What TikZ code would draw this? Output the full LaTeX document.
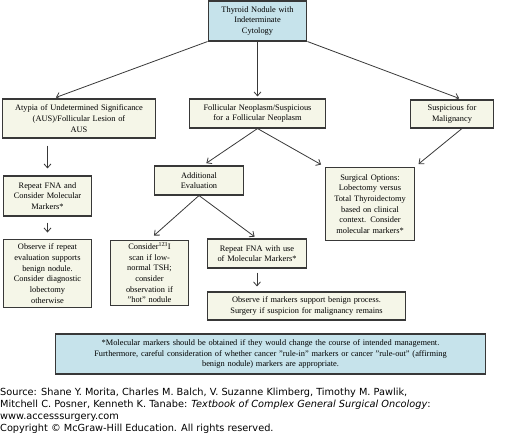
\documentclass[tikz,border=0pt]{standalone}
\usepackage{fontspec}
\setmainfont{Liberation Serif}
\newfontfamily\srcfont{DejaVu Sans}
\usetikzlibrary{arrows.meta}
\definecolor{boxcream}{HTML}{F5F6E8}
\definecolor{boxblue}{HTML}{C6E3EB}
\definecolor{boxline}{HTML}{383838}
\begin{document}
\begin{tikzpicture}[
		x=1bp, y=1bp,
		box/.style={draw=boxline, line width=1.2bp, fill=boxcream, align=center,
			inner sep=0pt, font=\fontsize{8.4}{10.7}\selectfont},
		bluebox/.style={box, fill=boxblue},
		arr/.style={-{Straight Barb[length=4bp, width=7bp]}, line width=0.8bp, draw=boxline}]
		
		\useasboundingbox (0,0) rectangle (514,-435);
		
		% top row
		\node[bluebox, minimum width=99, minimum height=40, text width=97] (thyroid) at (257.5,-21)
			{Thyroid Nodule with\\Indeterminate\\Cytology};
		\node[box, minimum width=154, minimum height=39, text width=152] (aus) at (79,-118.5)
			{Atypia of Undetermined Significance\\(AUS)/Follicular Lesion of\\AUS};
		\node[box, minimum width=137, minimum height=29, text width=135] (fn) at (257.5,-113.5)
			{Follicular Neoplasm/Suspicious\\for a Follicular Neoplasm};
		\node[box, minimum width=84, minimum height=28, text width=82] (susp) at (452,-114)
			{Suspicious for\\Malignancy};
		
		% left column
		\node[box, minimum width=89, minimum height=40, text width=87] (repeat) at (47.5,-196)
			{Repeat FNA and\\Consider Molecular\\Markers*};
		\node[box, minimum width=89, minimum height=69, text width=87] (observe) at (47.5,-273.5)
			{Observe if repeat\\evaluation supports\\benign nodule.\\Consider diagnostic\\lobectomy\\otherwise};
		
		% middle
		\node[box, minimum width=90, minimum height=29, text width=88] (addeval) at (199,-180.5)
			{Additional\\Evaluation};
		\node[box, minimum width=79, minimum height=66, text width=77] (consider) at (149.5,-273)
			{Consider\textsuperscript{123}I\\scan if low-\\normal TSH;\\consider\\observation if\\"hot" nodule};
		\node[box, minimum width=100, minimum height=29, text width=98] (repeatmm) at (257,-253.5)
			{Repeat FNA with use\\of Molecular Markers*};
		\node[box, minimum width=199, minimum height=28, text width=197] (obsmark) at (306.5,-306)
			{Observe if markers support benign process.\\Surgery if suspicion for malignancy remains};
		
		% right
		\node[box, minimum width=90, minimum height=74, text width=88] (surgical) at (370,-204)
			{Surgical Options:\\Lobectomy versus\\Total Thyroidectomy\\based on clinical\\context. Consider\\molecular markers*};
		
		% footnote
		\node[bluebox, minimum width=431, minimum height=40, text width=427] (note) at (270.5,-354)
			{*Molecular markers should be obtained if they would change the course of intended management.\\
			Furthermore, careful consideration of whether cancer "rule-in" markers or cancer "rule-out" (affirming\\
			benign nodule) markers are appropriate.};
		
		% arrows
		\draw[arr, shorten >=3bp] (thyroid.south west) -- ([xshift=-26]aus.north);
		\draw[arr, shorten >=2bp] (thyroid.south) -- (fn.north);
		\draw[arr, shorten >=3bp] (thyroid.south east) -- ([xshift=10]susp.north);
		\draw[arr, shorten <=7bp, shorten >=7bp] (repeat.north |- aus.south) -- (repeat.north);
		\draw[arr, shorten <=6bp, shorten >=6bp] (repeat.south) -- (observe.north);
		\draw[arr, shorten >=4bp] (fn.south) -- ([xshift=4]addeval.north);
		\draw[arr, shorten >=4bp] (fn.south) -- (surgical.north west);
		\draw[arr, shorten >=4bp] ([xshift=10]susp.south) -- (surgical.north east);
		\draw[arr, shorten >=6bp] (addeval.south) -- (consider.north);
		\draw[arr, shorten >=3bp] (addeval.south) -- (repeatmm.north);
		\draw[arr, shorten <=4bp, shorten >=5bp] (repeatmm.south) -- (repeatmm.south |- obsmark.north);
		
		% source lines
		\node[anchor=north west, inner sep=0pt, align=left, font=\srcfont\fontsize{9.8}{12.1}\selectfont] (source) at (0,-387.5)
			{Source: Shane Y. Morita, Charles M. Balch, V. Suzanne Klimberg, Timothy M. Pawlik,\\
			Mitchell C. Posner, Kenneth K. Tanabe: \textit{Textbook of Complex General Surgical Oncology}:\\
			www.accesssurgery.com\\
			Copyright © McGraw-Hill Education. All rights reserved.};
		
	\end{tikzpicture}
\end{document}
